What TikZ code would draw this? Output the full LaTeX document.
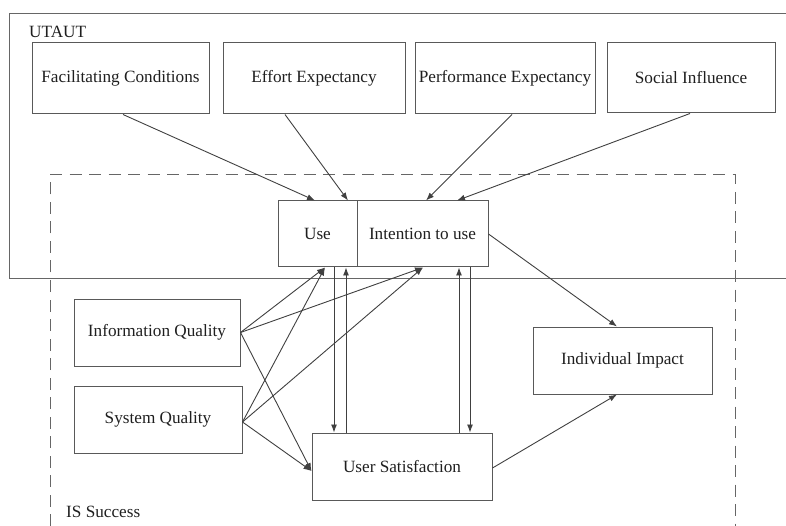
\documentclass[tikz,border=0pt]{standalone}
\usepackage{fontspec}
\setmainfont{Liberation Serif}
\usetikzlibrary{arrows.meta,calc}
\begin{document}
\begin{tikzpicture}[x=1pt,y=-1pt,
  box/.style={draw=black!65,line width=1pt,rectangle,inner sep=0pt,text=black!88,
    font=\fontsize{17.2}{20}\selectfont},
  frame/.style={draw=black!60,line width=1pt},
  dframe/.style={draw=black!60,line width=1pt,dash pattern=on 12pt off 7.5pt},
  conn/.style={draw=black!75,line width=0.9pt,-{Latex[length=8pt,width=6pt]}},
  lbl/.style={text=black!88,font=\fontsize{17.2}{20}\selectfont,inner sep=0pt,anchor=west}]
\useasboundingbox (0,0) rectangle (786,526);
% outer frames
\draw[frame] (786,14) -- (9,14) -- (9,279) -- (786,279);
\node[lbl] (utaut) at (29,32) {UTAUT};
\draw[dframe] (50,526) -- (50,175) -- (735,175) -- (735,526);
\node[lbl] (iss) at (66,512) {IS Success};
% top boxes
\node[box,minimum width=177pt,minimum height=71pt] (fc) at (120.5,78.5) {Facilitating Conditions};
\node[box,minimum width=182pt,minimum height=71pt] (ee) at (314,78.5) {Effort Expectancy};
\node[box,minimum width=180pt,minimum height=71pt] (pe) at (505,78.5) {Performance Expectancy};
\node[box,minimum width=168pt,minimum height=70pt] (si) at (691,78) {Social Influence};
% use / intention
\node[box,minimum width=79pt,minimum height=66pt] (use) at (317.5,234) {Use};
\node[box,minimum width=131pt,minimum height=66pt] (int) at (422.5,234) {Intention to use};
% IS boxes
\node[box,minimum width=166pt,minimum height=67pt] (iq) at (157,332.5) {Information Quality};
\node[box,minimum width=168pt,minimum height=67pt] (sq) at (158,419.5) {System Quality};
\node[box,minimum width=180pt,minimum height=67pt] (us) at (402,466.5) {User Satisfaction};
\node[box,minimum width=179pt,minimum height=67pt] (ii) at (622.5,360.5) {Individual Impact};
% UTAUT arrows
\draw[conn] ([xshift=2.5pt]fc.south) -- ([xshift=-2.5pt]use.north);
\draw[conn] ([xshift=-29pt]ee.south) -- ([xshift=30.5pt]use.north);
\draw[conn] ([xshift=7pt]pe.south) -- ([xshift=3.5pt]int.north);
\draw[conn] ([xshift=-1pt]si.south) -- ([xshift=34.5pt]int.north);
% quality arrows
\draw[conn] (iq.east) -- ([xshift=7.5pt]use.south);
\draw[conn] (iq.east) -- ([xshift=0.5pt]int.south);
\draw[conn] (iq.east) -- ([yshift=-4.5pt]us.west);
\draw[conn] ([yshift=-2.5pt]sq.east) -- ([xshift=7.5pt]use.south);
\draw[conn] ([yshift=-2.5pt]sq.east) -- ([xshift=0.5pt]int.south);
\draw[conn] ([yshift=-2.5pt]sq.east) -- ([yshift=-4.5pt]us.west);
% vertical feedback arrows
\draw[conn] ([xshift=16.5pt]use.south) -- ([xshift=16.5pt]use.south |- us.north);
\draw[conn] ([xshift=28.5pt]use.south |- us.north) -- ([xshift=28.5pt]use.south);
\draw[conn] ([xshift=36.5pt]int.south |- us.north) -- ([xshift=36.5pt]int.south);
\draw[conn] ([xshift=47.5pt]int.south) -- ([xshift=47.5pt]int.south |- us.north);
% impact arrows
\draw[conn] (int.east) -- ([xshift=-5.5pt]ii.north);
\draw[conn] ([yshift=-1.5pt]us.east) -- ([xshift=-5.5pt]ii.south);
\end{tikzpicture}
\end{document}
